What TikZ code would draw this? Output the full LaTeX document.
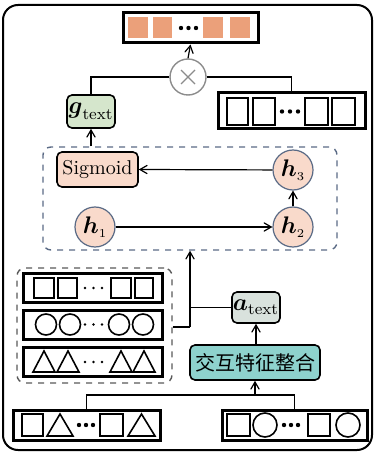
\documentclass[tikz,border=0pt]{standalone}
\usepackage{amsmath,amssymb}
\usepackage{fontspec}
\newfontfamily\cjk{Noto Sans CJK SC}
\usepackage{tikz}
\usetikzlibrary{arrows}
\definecolor{salmon}{HTML}{EBA07A}
\definecolor{peach}{HTML}{F9DACB}
\definecolor{palegreen}{HTML}{D5E6CC}
\definecolor{palegray}{HTML}{D9E2DD}
\definecolor{teal}{HTML}{8ED2CD}
\definecolor{slate}{HTML}{5A6A85}
\newcommand{\bh}[1]{$\boldsymbol{h}_{\scriptscriptstyle #1}$}

\begin{document}
\begin{tikzpicture}[x=0.5pt,y=-0.5pt,>=angle 60,line width=0.6pt,
    vecbox/.style={draw,line width=1.5pt,inner sep=0pt},
    gatebox/.style={draw,rounded corners=2.5pt,line width=0.8pt,inner sep=0pt,
      font=\fontsize{9.5}{10}\selectfont},
    mathbox/.style={gatebox,font=\fontsize{11.5}{12}\selectfont},
    hcell/.style={circle,draw=slate,fill=peach,line width=0.6pt,minimum size=20pt,
      inner sep=0pt,font=\fontsize{11.5}{12}\selectfont},
    groupbox/.style={draw=slate,dashed,rounded corners=4pt,line width=0.7pt,inner sep=0pt}]
     \useasboundingbox (0,0) rectangle (375,454);
     \draw[line width=1pt,rounded corners=7.5pt] (3,5) rectangle (372,450);
     % output vector
     \node[vecbox,minimum width=67.5pt,minimum height=15pt] (out) at (190.5,28) {};
     \fill[salmon] (128,17) rectangle (148,38.5);
     \fill[salmon] (153,17) rectangle (172,38.5);
     \fill[salmon] (203,17) rectangle (223,38.5);
     \fill[salmon] (230,17) rectangle (250,38.5);
     \fill(181,28) circle(2.2);
     \fill(188.5,28) circle(2.2);
     \fill(196,28) circle(2.2);
     % product
     \node[circle,draw=black!45,line width=0.7pt,minimum size=18pt,inner sep=0pt] (prod) at (188,77) {};
     \draw[black!45,line width=0.7pt] (181,70) -- (195,84);
     \draw[black!45,line width=0.7pt] (181,84) -- (195,70);
     \node[mathbox,fill=palegreen,minimum width=24pt,minimum height=16.5pt] (gtext) at (91,111.5) {$\boldsymbol{g}_{\text{text}}$};
     \node[vecbox,minimum width=73.5pt,minimum height=18pt] (txt) at (291.5,111) {};
     \draw[line width=0.8pt] (227,98) rectangle (248,125);
     \draw[line width=0.8pt] (253,98) rectangle (275,125);
     \draw[line width=0.8pt] (305,98) rectangle (328,125);
     \draw[line width=0.8pt] (332,98) rectangle (355,125);
     \fill(282,111.5) circle(2.2);
     \fill(290,111.5) circle(2.2);
     \fill(298,111.5) circle(2.2);
     \draw[->] (prod.north) -- (out.south);
     \draw (prod.west) -| (gtext.north);
     \draw (prod.east) -| (txt.north);
     % gate network
     \node[groupbox,minimum width=147pt,minimum height=51.5pt] (gate) at (190,198.5) {};
     \node[gatebox,fill=peach,minimum width=40.5pt,minimum height=17.5pt,font=\fontsize{10}{11}\selectfont] (sig) at (97.5,169.5) {Sigmoid};
     \node[hcell] (h1) at (95,227) {\bh{1}};
     \node[hcell] (h2) at (293,227) {\bh{2}};
     \node[hcell] (h3) at (293,170) {\bh{3}};
     \draw[->] (h1) -- (h2);
     \draw[->] (h2) -- (h3);
     \draw[->] (h3) -- (sig.east);
     \draw[->] (gtext.south |- gate.north) -- (gtext.south);
     % modality features
     \node[groupbox,draw=black!65,minimum width=77.5pt,minimum height=57.5pt] (feat) at (94.5,325.5) {};
     \node[vecbox,minimum width=69.5pt,minimum height=14.5pt] (fsq) at (92.5,288) {};
     \node[vecbox,minimum width=69.5pt,minimum height=14.5pt] (fci) at (92.5,324.5) {};
     \node[vecbox,minimum width=69.5pt,minimum height=14.5pt] (ftr) at (92.5,361.5) {};
     \draw[line width=0.8pt] (34,278) rectangle (54,298);
     \draw[line width=0.8pt] (58,278) rectangle (77,298);
     \draw[line width=0.8pt] (111,278) rectangle (131,298);
     \draw[line width=0.8pt] (135,278) rectangle (153,298);
     \fill(85,288) circle(1.4);
     \fill(93.5,288) circle(1.4);
     \fill(102,288) circle(1.4);
     \draw[line width=0.8pt] (46,324.5) circle(10.5);
     \draw[line width=0.8pt] (70,324.5) circle(10.5);
     \draw[line width=0.8pt] (119,324.5) circle(10.5);
     \draw[line width=0.8pt] (143,324.5) circle(10.5);
     \fill(85,324.5) circle(1.4);
     \fill(93.5,324.5) circle(1.4);
     \fill(102,324.5) circle(1.4);
     \draw[line width=0.8pt] (33,372) -- (44,351) -- (55,372) -- cycle;
     \draw[line width=0.8pt] (57,372) -- (68,351) -- (79,372) -- cycle;
     \draw[line width=0.8pt] (110,372) -- (121,351) -- (132,372) -- cycle;
     \draw[line width=0.8pt] (133,372) -- (144,351) -- (155,372) -- cycle;
     \fill(85,362) circle(1.4);
     \fill(93.5,362) circle(1.4);
     \fill(102,362) circle(1.4);
     % interaction
     \node[mathbox,fill=palegray,minimum width=24pt,minimum height=15.5pt] (atext) at (256,307.5) {$\boldsymbol{a}_{\text{text}}$};
     \node[gatebox,fill=teal,minimum width=65pt,minimum height=17.5pt,font=\cjk\fontsize{10}{11}\selectfont] (fuse) at (255,362.5) {交互特征整合};
     \coordinate (join) at (190,327);
     \draw (feat.east |- join) -- (join);
     \draw[->] (join) -- (join |- gate.south);
     \draw (atext.west) -- (atext.west -| join);
     \draw[->] (fuse.north -| atext) -- (atext.south);
     % inputs
     \node[vecbox,minimum width=73.5pt,minimum height=15pt] (inl) at (86.5,425) {};
     \node[vecbox,minimum width=72.5pt,minimum height=15pt] (inr) at (294.5,425) {};
     \draw[line width=0.8pt] (22,414) rectangle (43,436);
     \draw[line width=0.8pt] (47,436) -- (60,414) -- (73,436) -- cycle;
     \draw[line width=0.8pt] (100,414) rectangle (123,436);
     \draw[line width=0.8pt] (128,436) -- (141.5,414) -- (155,436) -- cycle;
     \fill(79,425) circle(2.2);
     \fill(86,425) circle(2.2);
     \fill(93,425) circle(2.2);
     \draw[line width=0.8pt] (227,414) rectangle (250,436);
     \draw[line width=0.8pt] (265,425) circle(12);
     \draw[line width=0.8pt] (308,414) rectangle (330,436);
     \draw[line width=0.8pt] (348,425) circle(12);
     \fill(284,425) circle(2.2);
     \fill(291,425) circle(2.2);
     \fill(298,425) circle(2.2);
     \coordinate (meet) at (255,395);
     \draw (inl.north) |- (meet) -| (inr.north);
     \draw[->] (meet) -- (fuse.south);
\end{tikzpicture}
\end{document}
